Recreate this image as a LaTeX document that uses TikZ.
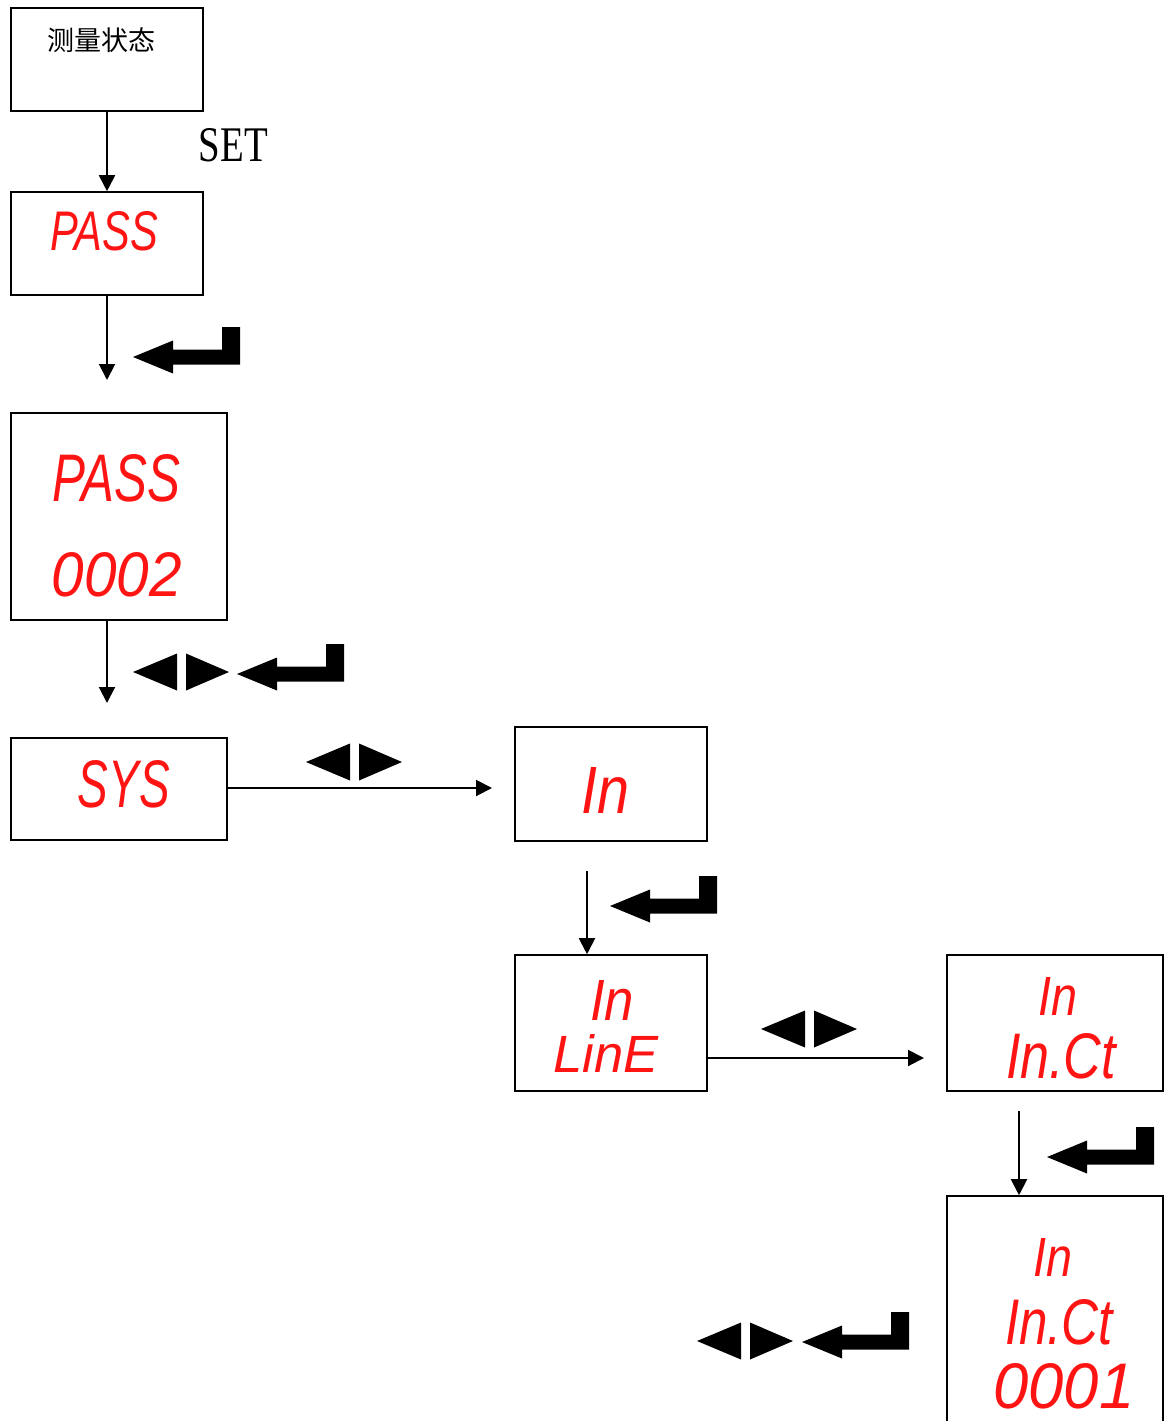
\documentclass[tikz,border=0pt]{standalone}
\usepackage{fontspec}
\usepackage{graphicx}
\usetikzlibrary{arrows.meta}
\newfontfamily\cjk{Noto Sans CJK SC}
\newfontfamily\segfont{Liberation Sans}
\newfontfamily\serfont{Liberation Serif}
\definecolor{segred}{RGB}{255,20,20}
\newcommand\segtxt[3]{\resizebox{#1pt}{#2pt}{\segfont\itshape #3}}
\tikzset{
  box/.style={draw, line width=1.6pt, inner sep=0pt, anchor=center},
  seg/.style={inner sep=0pt, text=segred, anchor=center},
  conn/.style={line width=2pt, -{Triangle[length=16pt,width=16pt]}},
  enterkey/.pic={\fill (0,0) -- (40,-16.5) -- (40,-7.5) -- (89,-7.5) -- (89,-30) -- (107,-30) -- (107,7.5) -- (40,7.5) -- (40,16.5) -- cycle;},
  lrkeys/.pic={\fill (0,0) -- (44,-18.5) -- (44,18.5) -- cycle; \fill (96,0) -- (53,-18.5) -- (53,18.5) -- cycle;}
}
\begin{document}
\begin{tikzpicture}[x=1pt,y=-1pt]
\useasboundingbox (0,0) rectangle (1168,1421);
% boxes
\node[box, minimum width=192pt, minimum height=103pt] (b1) at (107,59.5) {};
\node[box, minimum width=192pt, minimum height=103pt] (b2) at (107,243.5) {};
\node[box, minimum width=216pt, minimum height=207pt] (b3) at (119,516.5) {};
\node[box, minimum width=216pt, minimum height=102pt] (b4) at (119,789) {};
\node[box, minimum width=192pt, minimum height=114pt] (b5) at (611,784) {};
\node[box, minimum width=192pt, minimum height=136pt] (b6) at (611,1023) {};
\node[box, minimum width=216pt, minimum height=136pt] (b7) at (1055,1023) {};
\node[box, minimum width=216pt, minimum height=260pt] (b8) at (1055,1326) {};
% texts
\node[inner sep=0pt] (t1) at (101,40) {\cjk\fontsize{27}{30}\selectfont 测量状态};
\node[inner sep=0pt] (set) at (233.5,145.5) {\resizebox{69pt}{33pt}{\serfont SET}};
\node[seg] (t2) at (104,231) {\segtxt{108}{39}{PASS}};
\node[seg] (t3a) at (116,478.5) {\segtxt{128}{47}{PASS}};
\node[seg] (t3b) at (117,575) {\segtxt{130}{44}{0002}};
\node[seg] (t4) at (124,784) {\segtxt{92}{47}{SYS}};
\node[seg] (t5) at (605,790) {\segtxt{48}{46}{In}};
\node[seg] (t6a) at (612,1000) {\segtxt{44}{40}{In}};
\node[seg] (t6b) at (606,1053) {\segtxt{105}{38}{LinE}};
\node[seg] (t7a) at (1058,996) {\segtxt{39}{38}{In}};
\node[seg] (t7b) at (1061,1056) {\segtxt{110}{45}{In.Ct}};
\node[seg] (t8a) at (1053,1257) {\segtxt{39}{38}{In}};
\node[seg] (t8b) at (1059,1322) {\segtxt{108}{45}{In.Ct}};
\node[seg] (t8c) at (1064,1386) {\segtxt{141}{45}{0001}};
% free ends
\coordinate (a2) at (107,380);
\coordinate (a3) at (107,703);
\coordinate (a4) at (492,788);
\coordinate (s6) at (587,871);
\coordinate (a6) at (924,1058);
\coordinate (s8) at (1019,1111);
% connectors
\draw[conn] (b1.south) -- (b2.north);
\draw[conn] (b2.south) -- (a2);
\draw[conn] (a3 |- b3.south) -- (a3);
\draw[conn] (b4.east |- a4) -- (a4);
\draw[conn] (s6) -- (s6 |- b6.north);
\draw[conn] (b6.east |- a6) -- (a6);
\draw[conn] (s8) -- (s8 |- b8.north);
% key symbols
\pic at (133,357) {enterkey};
\pic at (133,672) {lrkeys};
\pic at (237,674) {enterkey};
\pic at (306,762) {lrkeys};
\pic at (610,906) {enterkey};
\pic at (761,1029) {lrkeys};
\pic at (1047,1157) {enterkey};
\pic at (697,1341) {lrkeys};
\pic at (802,1342) {enterkey};
\end{tikzpicture}
\end{document}
